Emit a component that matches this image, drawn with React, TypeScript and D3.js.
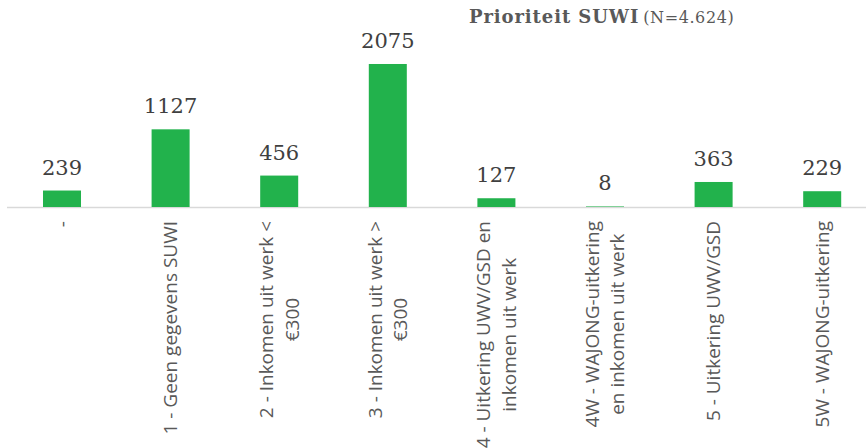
import { useEffect, useRef } from 'react';
import * as d3 from 'd3';

// Prioriteit SUWI - bar chart with rotated category labels

const categories = [
  '-',
  '1 - Geen gegevens SUWI',
  '2 - Inkomen uit werk <\n€300',
  '3 - Inkomen uit werk >\n€300',
  '4 - Uitkering UWV/GSD en\ninkomen uit werk',
  '4W - WAJONG-uitkering\nen inkomen uit werk',
  '5 - Uitkering UWV/GSD',
  '5W - WAJONG-uitkering',
];
const counts = [239, 1127, 456, 2075, 127, 8, 363, 229];
const titleBold = 'Prioriteit SUWI';
const titleRest = '(N=4.624)';

const App = () => {
  const svgRef = useRef<SVGSVGElement>(null);

  useEffect(() => {
    if (!svgRef.current) return;
    const svg = d3.select(svgRef.current);
    svg.selectAll('*').remove();

    const baseY = 207;
    const x = d3.scaleBand<number>()
      .domain(d3.range(categories.length))
      .range([7.7, 876.5])
      .paddingInner(0.65)
      .paddingOuter(0.325);
    const y = d3.scaleLinear().domain([0, 2500]).range([baseY, 34.7]);

    // title
    const title = svg.append('text')
      .attr('x', 469)
      .attr('y', 23)
      .attr('fill', '#595959')
      .attr('font-family', '"DejaVu Serif", serif');
    title.append('tspan')
      .attr('font-weight', 'bold')
      .attr('font-size', '18px')
      .attr('letter-spacing', '0.9px')
      .text(titleBold);
    title.append('tspan')
      .attr('font-size', '16px')
      .attr('dx', 4)
      .attr('letter-spacing', '0.6px')
      .text(titleRest);

    // axis line
    svg.append('line')
      .attr('x1', 7)
      .attr('x2', 866)
      .attr('y1', baseY + 0.5)
      .attr('y2', baseY + 0.5)
      .attr('stroke', '#d9d9d9')
      .attr('stroke-width', 1.5);

    // bars
    svg.selectAll('.bar')
      .data(counts)
      .enter()
      .append('rect')
      .attr('class', 'bar')
      .attr('x', (_, i) => x(i)!)
      .attr('width', x.bandwidth())
      .attr('y', d => y(d))
      .attr('height', d => baseY - y(d))
      .attr('fill', '#22b24c');

    // value labels
    svg.selectAll('.val')
      .data(counts)
      .enter()
      .append('text')
      .attr('class', 'val')
      .attr('x', (_, i) => x(i)! + x.bandwidth() / 2)
      .attr('y', d => y(d) - 16)
      .attr('text-anchor', 'middle')
      .attr('fill', '#404040')
      .attr('font-family', '"DejaVu Serif", serif')
      .attr('font-size', '21px')
      .text(d => d.toString());

    // category labels, rotated
    const lineH = 25.5;
    categories.forEach((cat, i) => {
      const lines = cat.split('\n');
      const cx = x(i)! + x.bandwidth() / 2;
      const g = svg.append('g')
        .attr('transform', `translate(${cx},221) rotate(-90)`);
      const texts = lines.map((ln, j) =>
        g.append('text')
          .attr('y', (j - (lines.length - 1) / 2) * lineH)
          .attr('dy', '0.35em')
          .attr('text-anchor', 'middle')
          .attr('fill', '#595959')
          .attr('font-family', '"Open Sans", sans-serif')
          .attr('font-size', '19px')
          .text(ln)
      );
      const maxW = d3.max(texts, t => (t.node() as SVGTextElement).getComputedTextLength()) || 0;
      texts.forEach(t => t.attr('x', -maxW / 2));
    });
  }, []);

  return (
    <svg
      ref={svgRef}
      width={866}
      height={448}
      style={{ position: 'absolute', left: 0, top: 0, background: '#fff' }}
    />
  );
};

export default App;
